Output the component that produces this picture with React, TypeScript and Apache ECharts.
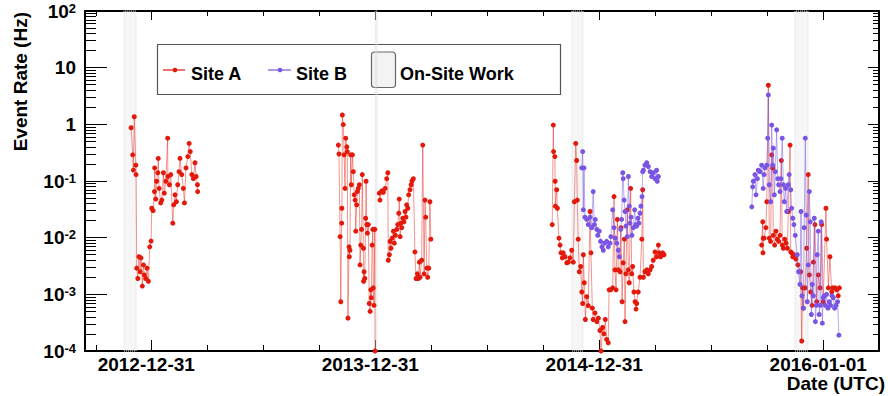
import React, { useEffect, useRef } from 'react';
import * as echarts from 'echarts';

const FONT = "'Liberation Sans', Arial, Helvetica, sans-serif";
const SITE_A_COLOR = '#e2190b';
const SITE_A_LINE = 'rgba(226,25,11,0.45)';
const SITE_B_COLOR = '#7a55e3';
const SITE_B_LINE = 'rgba(122,85,227,0.5)';

// x values are decimal years (2013.0 = end of 2012-12-31)
const dateTicks = [2013, 2014, 2015, 2016];
const dateTickLabels = ['2012-12-31', '2013-12-31', '2014-12-31', '2016-01-01'];
const quarterTicks = [2012.75, 2013.25, 2013.5, 2013.75, 2014.25, 2014.5, 2014.75, 2015.25, 2015.5, 2015.75];
const rateDecades = [1e-4, 1e-3, 1e-2, 1e-1, 1, 10, 100];
const rateMultipliers = [2, 3, 4, 5, 6, 7, 8, 9];

// On-site work periods [start, end]
const onSiteWork: [number, number][] = [
  [2012.876, 2012.930],
  [2013.998, 2014.006],
  [2014.876, 2014.925],
  [2015.872, 2015.930],
];

const siteA_2012: [number, number][] = [
  [2012.908, 0.87], [2012.915, 0.29], [2012.918, 0.156], [2012.922, 1.36], [2012.929, 0.19], [2012.930, 0.13],
  [2012.933, 0.0029], [2012.938, 0.0019], [2012.943, 0.0046], [2012.948, 0.0025], [2012.952, 0.0044],
  [2012.958, 0.0014], [2012.963, 0.0033], [2012.967, 0.0022], [2012.973, 0.0019], [2012.979, 0.0029],
  [2012.985, 0.0017], [2012.991, 0.0069], [2012.997, 0.0087], [2013.000, 0.033], [2013.006, 0.030],
  [2013.012, 0.065], [2013.013, 0.17], [2013.018, 0.048], [2013.022, 0.099], [2013.027, 0.14], [2013.029, 0.25],
  [2013.033, 0.074], [2013.040, 0.041], [2013.045, 0.046], [2013.052, 0.14], [2013.056, 0.061], [2013.063, 0.099],
  [2013.071, 0.57], [2013.072, 0.12], [2013.079, 0.086], [2013.085, 0.13], [2013.094, 0.018], [2013.098, 0.038],
  [2013.104, 0.057], [2013.110, 0.043], [2013.116, 0.086], [2013.122, 0.146], [2013.126, 0.25], [2013.134, 0.13],
  [2013.141, 0.074], [2013.146, 0.041], [2013.153, 0.17], [2013.161, 0.27], [2013.167, 0.46], [2013.172, 0.33],
  [2013.179, 0.13], [2013.186, 0.11], [2013.193, 0.21], [2013.198, 0.12], [2013.204, 0.086], [2013.205, 0.065],
];

const siteA_late2013: [number, number][] = [
  [2013.833, 0.43], [2013.836, 0.30], [2013.841, 0.0104], [2013.844, 0.00074], [2013.848, 0.018], [2013.849, 0.033],
  [2013.851, 1.46], [2013.855, 0.99], [2013.859, 0.29], [2013.863, 0.074], [2013.866, 0.57], [2013.871, 0.40],
  [2013.873, 0.33], [2013.876, 0.00038], [2013.881, 0.0069], [2013.882, 0.0046], [2013.885, 0.0060], [2013.888, 0.29],
  [2013.891, 0.086], [2013.896, 0.29], [2013.900, 0.146], [2013.904, 0.057], [2013.908, 0.046], [2013.911, 0.013],
  [2013.915, 0.038], [2013.918, 0.065], [2013.922, 0.074], [2013.927, 0.086], [2013.930, 0.0033], [2013.933, 0.0074],
  [2013.937, 0.014], [2013.940, 0.13], [2013.945, 0.0065], [2013.946, 0.0017], [2013.948, 0.0025], [2013.951, 0.0019],
  [2013.955, 0.022], [2013.957, 0.099], [2013.960, 0.017], [2013.963, 0.012], [2013.967, 0.017], [2013.971, 0.00069],
  [2013.975, 0.00050], [2013.978, 0.0012], [2013.980, 0.00087], [2013.984, 0.0074], [2013.987, 0.014],
  [2013.989, 0.0013], [2013.992, 0.00064], [2013.996, 0.014], [2013.997, 0.0001],
];

const siteA_early2014: [number, number][] = [
  [2014.016, 0.061], [2014.019, 0.046], [2014.027, 0.067], [2014.034, 0.063], [2014.042, 0.074], [2014.049, 0.11],
  [2014.054, 0.14], [2014.056, 0.0040], [2014.061, 0.0050], [2014.064, 0.0086], [2014.068, 0.0065], [2014.073, 0.0098],
  [2014.079, 0.013], [2014.083, 0.0080], [2014.088, 0.011], [2014.094, 0.014], [2014.098, 0.017], [2014.103, 0.027],
  [2014.105, 0.048], [2014.109, 0.0104], [2014.112, 0.018], [2014.116, 0.015], [2014.121, 0.022], [2014.126, 0.019],
  [2014.131, 0.029], [2014.135, 0.023], [2014.138, 0.038], [2014.143, 0.033], [2014.147, 0.057], [2014.153, 0.070],
  [2014.158, 0.086], [2014.162, 0.10], [2014.168, 0.11], [2014.175, 0.0056], [2014.180, 0.0019], [2014.186, 0.0023],
  [2014.190, 0.0019], [2014.195, 0.0037], [2014.198, 0.0020], [2014.205, 0.0040], [2014.210, 0.43], [2014.216, 0.0023],
  [2014.220, 0.046], [2014.223, 0.023], [2014.228, 0.0029], [2014.232, 0.0020], [2014.237, 0.0029], [2014.242, 0.043],
  [2014.246, 0.0094],
];

const siteA_winter2014: [number, number][] = [
  [2014.788, 0.017], [2014.793, 0.97], [2014.794, 0.33], [2014.800, 0.27], [2014.801, 0.099], [2014.802, 0.036],
  [2014.808, 0.070], [2014.811, 0.033], [2014.818, 0.0098], [2014.823, 0.0074], [2014.827, 0.0054], [2014.833, 0.0044],
  [2014.837, 0.0054], [2014.845, 0.0046], [2014.853, 0.0036], [2014.860, 0.0037], [2014.867, 0.0044], [2014.875, 0.0060],
  [2014.882, 0.0037], [2014.887, 0.043], [2014.893, 0.46], [2014.897, 0.23], [2014.900, 0.046], [2014.904, 0.0094],
  [2014.909, 0.0025], [2014.915, 0.0031], [2014.920, 0.0011], [2014.924, 0.00069], [2014.927, 0.0050], [2014.931, 0.0016],
  [2014.936, 0.00036], [2014.942, 0.00091], [2014.949, 0.00063], [2014.957, 0.029], [2014.961, 0.0054], [2014.967, 0.00057],
  [2014.971, 0.00036], [2014.979, 0.00047], [2014.987, 0.00033], [2014.994, 0.00038], [2015.001, 0.00023], [2015.006, 0.0001],
  [2015.013, 0.00026], [2015.019, 0.00020], [2015.025, 0.00036], [2015.031, 0.00016], [2015.038, 0.00014], [2015.042, 0.0012],
  [2015.049, 0.0012], [2015.058, 0.0013], [2015.064, 0.053], [2015.068, 0.0027], [2015.073, 0.0012], [2015.079, 0.021],
  [2015.083, 0.0027], [2015.091, 0.0025], [2015.095, 0.015], [2015.100, 0.00074], [2015.105, 0.0036], [2015.110, 0.0094],
  [2015.113, 0.00033], [2015.117, 0.0023], [2015.123, 0.031], [2015.128, 0.0027], [2015.132, 0.0016], [2015.138, 0.074],
  [2015.143, 0.0023], [2015.147, 0.0031], [2015.153, 0.0011], [2015.158, 0.00074], [2015.162, 0.00055], [2015.165, 0.00069],
  [2015.172, 0.0011], [2015.180, 0.0020], [2015.188, 0.0094], [2015.192, 0.070], [2015.195, 0.0020], [2015.202, 0.0025],
  [2015.210, 0.0027], [2015.217, 0.0023], [2015.225, 0.0027], [2015.232, 0.0031], [2015.239, 0.0040], [2015.247, 0.0056],
  [2015.254, 0.0046], [2015.262, 0.0074], [2015.266, 0.0054], [2015.272, 0.0046], [2015.281, 0.0054], [2015.287, 0.0050],
];

const siteA_winter2015: [number, number][] = [
  [2015.723, 0.0074], [2015.728, 0.019], [2015.729, 0.0054], [2015.730, 0.0098], [2015.734, 0.0098], [2015.742, 0.015],
  [2015.746, 0.043], [2015.753, 4.9], [2015.757, 0.0098], [2015.763, 0.0086], [2015.768, 0.29], [2015.772, 0.17],
  [2015.775, 0.011], [2015.781, 0.0074], [2015.787, 0.013], [2015.793, 0.0094], [2015.799, 0.0086], [2015.805, 0.011],
  [2015.811, 0.23], [2015.815, 0.0074], [2015.820, 0.0065], [2015.826, 0.0094], [2015.832, 0.0080], [2015.838, 0.0065],
  [2015.842, 0.029], [2015.850, 0.43], [2015.853, 0.0056], [2015.857, 0.0054], [2015.862, 0.0046], [2015.867, 0.0050],
  [2015.876, 0.0042], [2015.885, 0.0033], [2015.897, 0.0025], [2015.902, 0.00015], [2015.906, 0.0013], [2015.909, 0.00057],
  [2015.917, 0.0013], [2015.924, 0.0065], [2015.931, 0.13], [2015.936, 0.0022], [2015.942, 0.0011], [2015.948, 0.00064],
  [2015.954, 0.0037], [2015.961, 0.017], [2015.969, 0.00074], [2015.976, 0.0022], [2015.984, 0.0013], [2015.991, 0.017],
  [2015.998, 0.00074], [2016.010, 0.033], [2016.013, 0.0094], [2016.021, 0.0013], [2016.028, 0.0046], [2016.036, 0.0011],
  [2016.040, 0.0013], [2016.051, 0.0013], [2016.058, 0.0012], [2016.065, 0.00094], [2016.070, 0.0013],
];

const siteB_winter2014: [number, number][] = [
  [2014.920, 0.17], [2014.924, 0.33], [2014.927, 0.031], [2014.930, 0.17], [2014.934, 0.023], [2014.942, 0.021],
  [2014.949, 0.017], [2014.957, 0.023], [2014.964, 0.015], [2014.971, 0.065], [2014.976, 0.017], [2014.980, 0.021],
  [2014.987, 0.014], [2014.991, 0.011], [2014.998, 0.013], [2015.004, 0.0086], [2015.010, 0.0069], [2015.016, 0.0060],
  [2015.022, 0.0080], [2015.031, 0.0086], [2015.038, 0.0069], [2015.046, 0.0080], [2015.050, 0.0104], [2015.058, 0.031],
  [2015.064, 0.015], [2015.070, 0.0098], [2015.076, 0.0080], [2015.083, 0.0060], [2015.088, 0.0046], [2015.094, 0.014],
  [2015.098, 0.021], [2015.103, 0.14], [2015.105, 0.11], [2015.109, 0.046], [2015.113, 0.029], [2015.117, 0.016],
  [2015.123, 0.0104], [2015.128, 0.12], [2015.132, 0.036], [2015.135, 0.018], [2015.140, 0.023], [2015.144, 0.011],
  [2015.150, 0.015], [2015.156, 0.031], [2015.161, 0.017], [2015.165, 0.016], [2015.171, 0.022], [2015.175, 0.018],
  [2015.180, 0.027], [2015.184, 0.036], [2015.189, 0.053], [2015.192, 0.146], [2015.195, 0.155], [2015.202, 0.19],
  [2015.210, 0.21], [2015.217, 0.18], [2015.225, 0.146], [2015.232, 0.12], [2015.239, 0.14], [2015.247, 0.11],
  [2015.254, 0.155], [2015.257, 0.099], [2015.262, 0.12],
];

const siteB_winter2015: [number, number][] = [
  [2015.679, 0.035], [2015.683, 0.079], [2015.686, 0.099], [2015.693, 0.13], [2015.698, 0.057], [2015.704, 0.11],
  [2015.708, 0.155], [2015.716, 0.146], [2015.723, 0.19], [2015.730, 0.074], [2015.734, 0.13], [2015.738, 0.17],
  [2015.746, 0.19], [2015.750, 0.57], [2015.753, 3.3], [2015.757, 0.086], [2015.763, 0.043], [2015.768, 0.97],
  [2015.772, 0.19], [2015.775, 0.38], [2015.780, 0.057], [2015.784, 0.146], [2015.790, 0.80], [2015.795, 0.11],
  [2015.799, 0.086], [2015.805, 0.065], [2015.809, 0.11], [2015.815, 0.57], [2015.820, 0.086], [2015.824, 0.043],
  [2015.830, 0.074], [2015.835, 0.029], [2015.842, 0.086], [2015.846, 0.13], [2015.853, 0.070], [2015.857, 0.033],
  [2015.862, 0.022], [2015.867, 0.017], [2015.873, 0.011], [2015.882, 0.0050], [2015.888, 0.0025], [2015.894, 0.0015],
  [2015.899, 0.029], [2015.903, 0.00094], [2015.909, 0.00057], [2015.913, 0.015], [2015.918, 0.57], [2015.922, 0.025],
  [2015.927, 0.00074], [2015.931, 0.0033], [2015.936, 0.065], [2015.940, 0.019], [2015.945, 0.00044], [2015.949, 0.0015],
  [2015.954, 0.00094], [2015.958, 0.022], [2015.963, 0.00033], [2015.967, 0.00064], [2015.971, 0.0050], [2015.976, 0.013],
  [2015.980, 0.00044], [2015.985, 0.00064], [2015.989, 0.019], [2015.994, 0.00031], [2015.998, 0.00087], [2016.003, 0.00094],
  [2016.007, 0.00064], [2016.013, 0.0010], [2016.019, 0.00057], [2016.025, 0.00074], [2016.031, 0.00064], [2016.037, 0.00094],
  [2016.043, 0.00087], [2016.049, 0.00057], [2016.055, 0.00064], [2016.062, 0.00074], [2016.068, 0.00019],
];

const siteASegments = [siteA_2012, siteA_late2013, siteA_early2014, siteA_winter2014, siteA_winter2015];
const siteBSegments = [siteB_winter2014, siteB_winter2015];

export default function App() {
  const ref = useRef<HTMLDivElement>(null);

  useEffect(() => {
    document.body.style.margin = '0';
    if (!ref.current) return;
    const chart = echarts.init(ref.current, null, { renderer: 'svg' });

    const rateMinorTicks: number[] = [];
    rateDecades.slice(0, -1).forEach((d) => rateMultipliers.forEach((m) => rateMinorTicks.push(m * d)));

    const supLabel = (v: number) => {
      const e = Math.round(Math.log10(v));
      if (e === 0) return '{b|1}';
      if (e === 1) return '{b|10}';
      return `{b|10}{s|${e}}`;
    };

    const xLabel = (v: number) => {
      const i = dateTicks.findIndex((t) => Math.abs(t - v) < 1e-6);
      return i >= 0 ? dateTickLabels[i] : '';
    };

    const black = { color: '#000', width: 1 };
    const xBase = { type: 'value', min: 2012.702, max: 2016.247, splitLine: { show: false }, scale: true };
    const yBase = { type: 'log', logBase: 10, min: 1e-4, max: 100, splitLine: { show: false } };

    const lineSeries = (data: [number, number][], name: string, color: string, lineColor: string, z: number) => ({
      type: 'line',
      name,
      data,
      xAxisIndex: 0,
      yAxisIndex: 0,
      symbol: 'circle',
      symbolSize: 5,
      showSymbol: true,
      connectNulls: false,
      itemStyle: { color },
      lineStyle: { color: lineColor, width: 1 },
      z,
    });

    chart.setOption({
      animation: false,
      grid: { left: 85, right: 9, top: 11, bottom: 45, outerBoundsMode: 'none' },
      xAxis: [
        {
          ...xBase,
          position: 'bottom',
          axisLine: { show: true, onZero: false, lineStyle: { color: '#000', width: 2 } },
          axisTick: { show: true, inside: true, length: 11, customValues: dateTicks, lineStyle: black },
          axisLabel: {
            customValues: dateTicks,
            formatter: xLabel,
            margin: 5,
            color: '#000',
            fontFamily: FONT,
            fontSize: 19,
            lineHeight: 16,
            fontWeight: 'bold',
            padding: [0, 11, 0, 0],
          },
        },
        {
          ...xBase,
          position: 'bottom',
          axisLine: { show: false, onZero: false },
          axisTick: { show: true, inside: true, length: 6, customValues: quarterTicks, lineStyle: black },
          axisLabel: { show: false },
        },
        {
          ...xBase,
          position: 'top',
          axisLine: { show: true, onZero: false, lineStyle: { color: '#000', width: 2 } },
          axisTick: { show: true, inside: true, length: 9, customValues: dateTicks, lineStyle: black },
          axisLabel: { show: false },
        },
        {
          ...xBase,
          position: 'top',
          axisLine: { show: false, onZero: false },
          axisTick: { show: true, inside: true, length: 5, customValues: quarterTicks, lineStyle: black },
          axisLabel: { show: false },
        },
      ],
      yAxis: [
        {
          ...yBase,
          position: 'left',
          axisLine: { show: true, onZero: false, lineStyle: { color: '#000', width: 2 } },
          axisTick: { show: true, inside: true, length: 22, customValues: rateDecades, lineStyle: black },
          axisLabel: {
            customValues: rateDecades,
            formatter: supLabel,
            margin: 9,
            rich: {
              b: { fontFamily: FONT, fontSize: 19, fontWeight: 'bold', color: '#000' },
              s: { fontFamily: FONT, fontSize: 13, fontWeight: 'bold', color: '#000', verticalAlign: 'top' },
            },
          },
        },
        {
          ...yBase,
          position: 'left',
          axisLine: { show: false, onZero: false },
          axisTick: { show: true, inside: true, length: 11, customValues: rateMinorTicks, lineStyle: black },
          axisLabel: { show: false },
        },
        {
          ...yBase,
          position: 'right',
          axisLine: { show: true, onZero: false, lineStyle: { color: '#000', width: 2 } },
          axisTick: { show: true, inside: true, length: 11, customValues: rateDecades, lineStyle: black },
          axisLabel: { show: false },
        },
        {
          ...yBase,
          position: 'right',
          axisLine: { show: false, onZero: false },
          axisTick: { show: true, inside: true, length: 6, customValues: rateMinorTicks, lineStyle: black },
          axisLabel: { show: false },
        },
      ],
      series: [
        {
          type: 'line',
          name: 'On-Site Work',
          data: [],
          xAxisIndex: 0,
          yAxisIndex: 0,
          z: 1,
          markArea: {
            silent: true,
            itemStyle: {
              color: 'rgba(215,215,215,0.22)',
              borderColor: '#dcdcdc',
              borderWidth: 1,
              borderType: 'dotted',
            },
            data: onSiteWork.map(([a, b]) => [{ xAxis: a }, { xAxis: b }]),
          },
        },
        ...siteASegments.map((d) => lineSeries(d, 'Site A', SITE_A_COLOR, SITE_A_LINE, 3)),
        ...siteBSegments.map((d) => lineSeries(d, 'Site B', SITE_B_COLOR, SITE_B_LINE, 4)),
      ],
      graphic: [
        {
          type: 'text',
          x: 20,
          y: 12,
          rotation: Math.PI / 2,
          style: {
            text: 'Event Rate (Hz)',
            fontFamily: FONT,
            fontSize: 19,
            fontWeight: 'bold',
            fill: '#000',
            align: 'right',
            verticalAlign: 'middle',
          },
        },
        {
          type: 'text',
          x: 885,
          y: 383.5,
          style: {
            text: 'Date (UTC)',
            fontFamily: FONT,
            fontSize: 19,
            lineHeight: 16,
            fontWeight: 'bold',
            fill: '#000',
            align: 'right',
            verticalAlign: 'middle',
          },
        },
        {
          type: 'group',
          z: 100,
          children: [
            {
              type: 'rect',
              shape: { x: 157.5, y: 44.5, width: 403, height: 50 },
              style: { fill: '#fff', stroke: '#555', lineWidth: 1.2 },
            },
            { type: 'line', shape: { x1: 163, y1: 70, x2: 185, y2: 70 }, style: { stroke: SITE_A_COLOR, lineWidth: 1.2 } },
            { type: 'circle', shape: { cx: 175, cy: 70, r: 2.3 }, style: { fill: SITE_A_COLOR } },
            {
              type: 'text',
              x: 191,
              y: 74,
              style: { text: 'Site A', fontFamily: FONT, fontSize: 18, fontWeight: 'bold', fill: '#000', verticalAlign: 'middle' },
            },
            { type: 'line', shape: { x1: 268, y1: 70, x2: 291, y2: 70 }, style: { stroke: SITE_B_COLOR, lineWidth: 1.2 } },
            { type: 'circle', shape: { cx: 280, cy: 70, r: 2.3 }, style: { fill: SITE_B_COLOR } },
            {
              type: 'text',
              x: 296,
              y: 74,
              style: { text: 'Site B', fontFamily: FONT, fontSize: 18, fontWeight: 'bold', fill: '#000', verticalAlign: 'middle' },
            },
            {
              type: 'rect',
              shape: { x: 371.5, y: 52, width: 24, height: 35.5, r: 3 },
              style: { fill: '#f3f3f3', stroke: '#666', lineWidth: 1.2 },
            },
            {
              type: 'text',
              x: 400,
              y: 74,
              style: { text: 'On-Site Work', fontFamily: FONT, fontSize: 18, fontWeight: 'bold', fill: '#000', verticalAlign: 'middle' },
            },
          ],
        },
      ],
    });

    return () => chart.dispose();
  }, []);

  return <div ref={ref} style={{ width: 888, height: 396 }} />;
}
